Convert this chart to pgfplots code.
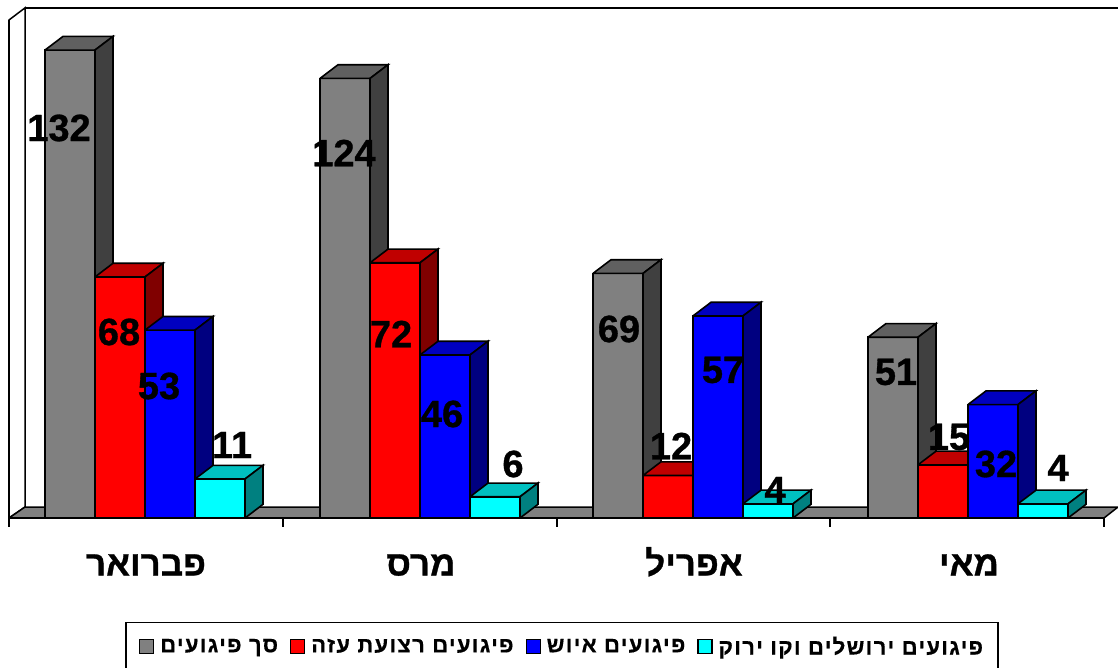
\documentclass[border=0pt]{standalone}
\usepackage{fontspec}
\usepackage{pgfplots}
\pgfplotsset{compat=1.18}
\setmainfont{Liberation Sans}
\newfontfamily\heb[Script=Hebrew,BoldFeatures={FakeBold=0.8}]{Liberation Sans}
\newfontfamily\hebleg[Script=Hebrew,LetterSpace=6,BoldFeatures={FakeBold=0.5}]{Liberation Sans}
\newfontfamily\num[BoldFeatures={FakeBold=0.8}]{Liberation Sans}
\TeXXeTstate=1
\definecolor{gF}{HTML}{808080}\definecolor{gS}{HTML}{404040}\definecolor{gT}{HTML}{606060}
\definecolor{rF}{HTML}{FF0000}\definecolor{rS}{HTML}{800000}\definecolor{rT}{HTML}{C00000}
\definecolor{bF}{HTML}{0000FF}\definecolor{bS}{HTML}{000080}\definecolor{bT}{HTML}{0000C0}
\definecolor{cF}{HTML}{00FFFF}\definecolor{cS}{HTML}{008080}\definecolor{cT}{HTML}{00C0C0}
\newcommand\depth[3]{% left edge, value, colour prefix
  \pgfmathsetmacro\xa{#1}\pgfmathsetmacro\xb{#1+50}\pgfmathsetmacro\xc{#1+68}\pgfmathsetmacro\xd{#1+18}
  \pgfmathsetmacro\yu{#2+3.85}
  \edef\tmp{\noexpand\addplot[forget plot,draw=black,line width=1.6pt,fill=#3T] coordinates {(\xa,#2)(\xb,#2)(\xc,\yu)(\xd,\yu)(\xa,#2)};
  \noexpand\addplot[forget plot,draw=black,line width=1.6pt,fill=#3S] coordinates {(\xb,0)(\xc,3.85)(\xc,\yu)(\xb,#2)(\xb,0)};}\tmp}
\newcommand\lab[3]{\node[font=\num\bfseries\fontsize{38}{38}\selectfont,text=black,inner sep=0pt] at (axis cs:#1,{(518-#2)/3.545}) {#3};}
\begin{document}
\begin{tikzpicture}
\useasboundingbox (-9pt,-150pt) rectangle (1109pt,518pt);
\begin{axis}[
  at={(0pt,0pt)},anchor=origin,
  scale only axis,width=1095pt,height=498pt,
  xmin=9,xmax=1104,ymin=0,ymax=140.48,
  clip=false,
  axis x line=bottom,axis y line=left,
  axis line style={-,line width=1.5pt,black},
  ytick=\empty,
  xtick={145,420,693,968},
  xticklabels={{\beginR פברואר\endR},{\beginR מרס\endR},{\beginR אפריל\endR},{\beginR מאי\endR}},
  minor xtick={9,283,557,830,1104},
  major tick length=0pt,minor tick length=9pt,
  every minor tick/.style={line width=1.2pt,black},
  tick align=outside,
  xticklabel style={font=\heb\bfseries\fontsize{35}{35}\selectfont,yshift=-28pt,xshift=1pt,text height=26pt,text depth=0pt},
  legend columns=4,
  legend style={at={(axis cs:562,-36.2)},anchor=center,draw=black,line width=1.5pt,
    font=\hebleg\bfseries\fontsize{22}{22}\selectfont,
    inner xsep=13pt,inner ysep=12pt,
    /tikz/every even column/.append style={column sep=10pt},
    /tikz/every odd column/.append style={column sep=4pt}},
  legend image code/.code={\draw[line width=1.2pt,draw=black,fill=#1] (0pt,-7pt) rectangle (14pt,7pt);},
]
% walls and floor
\addplot[forget plot,draw=black,line width=1.5pt,fill=white] coordinates {(9,0)(25,3.1)(25,143.9)(9,140.48)(9,0)};
\addplot[forget plot,draw=black,line width=1.5pt] coordinates {(25,143.9)(1118,143.9)};
\addplot[forget plot,draw=black,line width=1.5pt,fill=gF] coordinates {(9,0)(25,3.1)(1118,3.1)(1104,0)(9,0)};
% grey
\addplot[ybar,bar width=50,bar shift=-75,draw=black,line width=1.6pt,fill=gF,area legend,legend image code/.code={\draw[line width=1.2pt,draw=black,fill=gF] (0pt,-7pt) rectangle (14pt,7pt);}] coordinates {(145,132)(420,124)(693,69)(968,51)};
\addlegendentry{\beginR סך פיגועים\endR}
\depth{45}{132}{g}\depth{320}{124}{g}\depth{593}{69}{g}\depth{868}{51}{g}
% red
\addplot[ybar,bar width=50,bar shift=-25,draw=black,line width=1.6pt,fill=rF,area legend,legend image code/.code={\draw[line width=1.2pt,draw=black,fill=rF] (0pt,-7pt) rectangle (14pt,7pt);}] coordinates {(145,68)(420,72)(693,12)(968,15)};
\addlegendentry{\beginR פיגועים רצועת עזה\endR}
\depth{95}{68}{r}\depth{370}{72}{r}\depth{643}{12}{r}\depth{918}{15}{r}
% blue
\addplot[ybar,bar width=50,bar shift=25,draw=black,line width=1.6pt,fill=bF,area legend,legend image code/.code={\draw[line width=1.2pt,draw=black,fill=bF] (0pt,-7pt) rectangle (14pt,7pt);}] coordinates {(145,53)(420,46)(693,57)(968,32)};
\addlegendentry{\beginR פיגועים איוש\endR}
\depth{145}{53}{b}\depth{420}{46}{b}\depth{693}{57}{b}\depth{968}{32}{b}
% cyan
\addplot[ybar,bar width=50,bar shift=75,draw=black,line width=1.6pt,fill=cF,area legend,legend image code/.code={\draw[line width=1.2pt,draw=black,fill=cF] (0pt,-7pt) rectangle (14pt,7pt);}] coordinates {(145,11)(420,6)(693,4)(968,4)};
\addlegendentry{\beginR פיגועים ירושלים וקו ירוק\endR}
\depth{195}{11}{c}\depth{470}{6}{c}\depth{743}{4}{c}\depth{1018}{4}{c}
% data labels
\lab{59}{128}{132}\lab{119}{332}{68}\lab{159}{386}{53}\lab{232}{445}{11}
\lab{344}{153}{124}\lab{391}{334}{72}\lab{442}{414}{46}\lab{513}{464}{6}
\lab{619}{329}{69}\lab{671}{446}{12}\lab{723}{370}{57}\lab{775}{490}{4}
\lab{896}{372}{51}\lab{949}{437}{15}\lab{996}{464}{32}\lab{1058}{468}{4}
\end{axis}
\end{tikzpicture}
\end{document}
